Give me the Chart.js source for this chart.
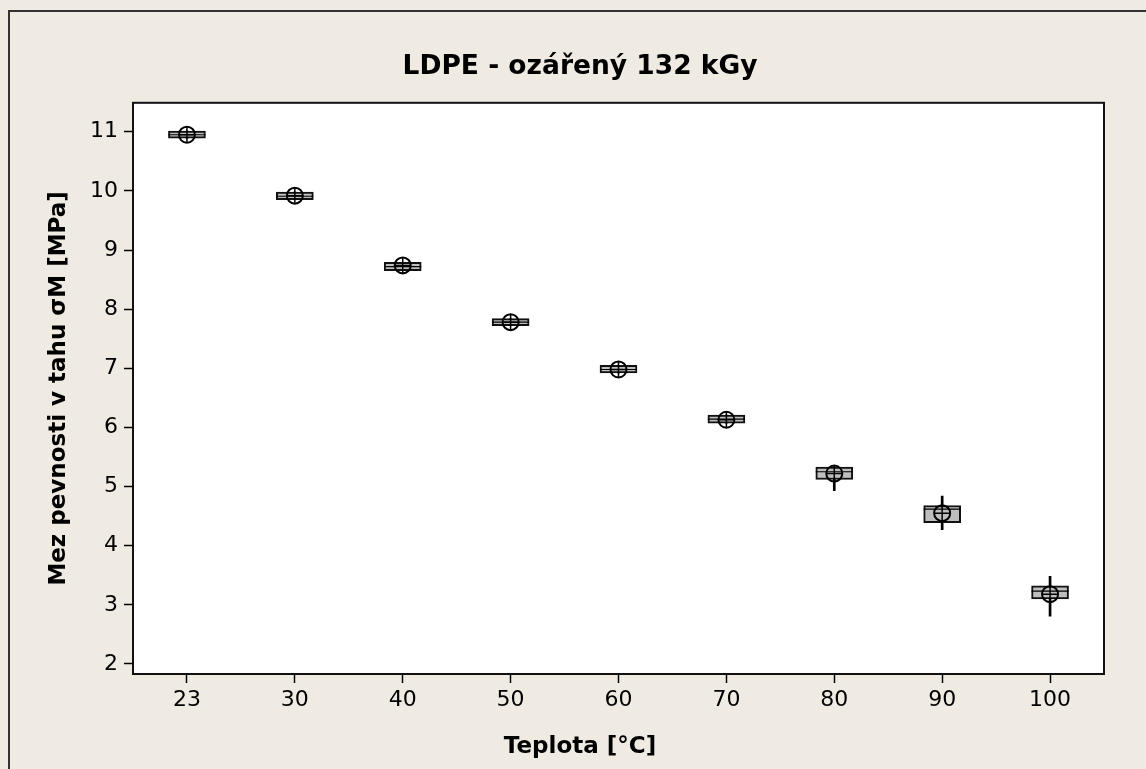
<!DOCTYPE html>
<html>
<head>
<meta charset="utf-8">
<script src="https://cdn.jsdelivr.net/npm/chart.js@4"></script>
<style>
  html, body { margin: 0; padding: 0; overflow: hidden; background: #efebe2; }
  #frame {
    position: absolute; left: 8px; top: 10px;
    border-left: 2px solid #333; border-top: 2px solid #333;
    width: 1140px; height: 757px;
  }
  canvas { display: block; }
</style>
</head>
<body>
<div id="frame"><canvas id="boxChart" width="1140" height="757"></canvas></div>
<script>
// tensile strength of irradiated LDPE vs. test temperature
const temps = ['23', '30', '40', '50', '60', '70', '80', '90', '100'];
const q1 = [10.89, 9.85, 8.65, 7.72, 6.92, 6.07, 5.12, 4.39, 3.10];
const q3 = [11.01, 9.98, 8.79, 7.84, 7.05, 6.21, 5.33, 4.68, 3.32];
const medians = [10.95, 9.91, 8.72, 7.78, 6.98, 6.14, 5.25, 4.62, 3.23];
const means = [10.95, 9.92, 8.74, 7.78, 6.98, 6.13, 5.22, 4.55, 3.18];
const whiskerLo = [10.89, 9.85, 8.65, 7.72, 6.92, 6.07, 4.93, 4.27, 2.81];
const whiskerHi = [11.01, 9.98, 8.79, 7.84, 7.05, 6.21, 5.33, 4.84, 3.48];
const yTicks = [2, 3, 4, 5, 6, 7, 8, 9, 10, 11];

Chart.defaults.font.family = 'DejaVu Sans';
Chart.defaults.color = '#000';

// white plot area with a black frame round it
const plotFrame = {
  id: 'plotFrame',
  beforeDraw(chart) {
    const { ctx, chartArea: a } = chart;
    ctx.save();
    ctx.fillStyle = '#fff';
    ctx.fillRect(a.left, a.top, a.right - a.left, a.bottom - a.top);
    ctx.restore();
  },
  afterDatasetsDraw(chart) {
    const { ctx, chartArea: a } = chart;
    ctx.save();
    ctx.strokeStyle = '#111';
    ctx.lineWidth = 2;
    ctx.strokeRect(a.left, a.top, a.right - a.left, a.bottom - a.top);
    ctx.restore();
  }
};

const markerBase = {
  type: 'line',
  showLine: false,
  pointBackgroundColor: 'transparent',
  pointBorderColor: '#000'
};

new Chart(document.getElementById('boxChart'), {
  type: 'bar',
  data: {
    labels: temps,
    datasets: [
      { ...markerBase, label: 'mean', data: means, pointStyle: 'cross', pointRadius: 8, pointBorderWidth: 1.5, order: 0 },
      { ...markerBase, label: 'mean', data: means, pointStyle: 'circle', pointRadius: 8, pointBorderWidth: 2, order: 1 },
      { ...markerBase, label: 'median', data: medians, pointStyle: 'line', pointRadius: 18.5, pointBorderWidth: 1.2, order: 2 },
      {
        label: 'box',
        data: q1.map((v, i) => [v, q3[i]]),
        backgroundColor: '#bebebe',
        borderColor: '#111',
        borderWidth: 2,
        borderSkipped: false,
        barThickness: 37,
        grouped: false,
        order: 3
      },
      {
        label: 'whisker',
        data: whiskerLo.map((v, i) => [v, whiskerHi[i]]),
        backgroundColor: '#000',
        borderWidth: 0,
        barThickness: 2,
        grouped: false,
        order: 4
      }
    ]
  },
  options: {
    responsive: false,
    animation: false,
    events: [],
    layout: { padding: 0 },
    plugins: {
      legend: { display: false },
      tooltip: { enabled: false },
      title: {
        display: true,
        text: 'LDPE - ozářený 132 kGy',
        font: { size: 26.5, weight: 'bold', lineHeight: 1.2 },
        color: '#000',
        padding: { top: 39, bottom: 20 }
      },
      subtitle: {
        display: true,
        position: 'bottom',
        text: 'Teplota [°C]',
        font: { size: 23, weight: 'bold', lineHeight: 1.2 },
        color: '#000',
        padding: { top: 0, bottom: 8 }
      }
    },
    scales: {
      x: {
        grid: { display: true, drawOnChartArea: false, offset: false, tickLength: 9, tickColor: '#000', tickWidth: 1.5 },
        border: { display: false },
        ticks: { font: { size: 22 }, color: '#000', padding: 4 },
        afterFit(scale) { scale.height = 59.4; }
      },
      y: {
        min: 1.83,
        max: 11.49,
        afterBuildTicks(scale) { scale.ticks = yTicks.map(v => ({ value: v })); },
        grid: { display: true, drawOnChartArea: false, tickLength: 9, tickColor: '#000', tickWidth: 1.5 },
        border: { display: false },
        ticks: { font: { size: 22 }, color: '#000', padding: 6 },
        title: {
          display: true,
          text: 'Mez pevnosti v tahu σM [MPa]',
          font: { size: 23, weight: 'bold', lineHeight: 1.2 },
          color: '#000',
          padding: { top: 35, bottom: 0 }
        },
        afterFit(scale) { scale.width = 123; }
      },
      // empty strip on the right so the titles stay centred on the whole frame
      yRight: {
        position: 'right',
        grid: { display: false },
        border: { display: false },
        ticks: { display: false },
        afterFit(scale) { scale.width = 46; }
      }
    }
  },
  plugins: [plotFrame]
});
</script>
</body>
</html>
